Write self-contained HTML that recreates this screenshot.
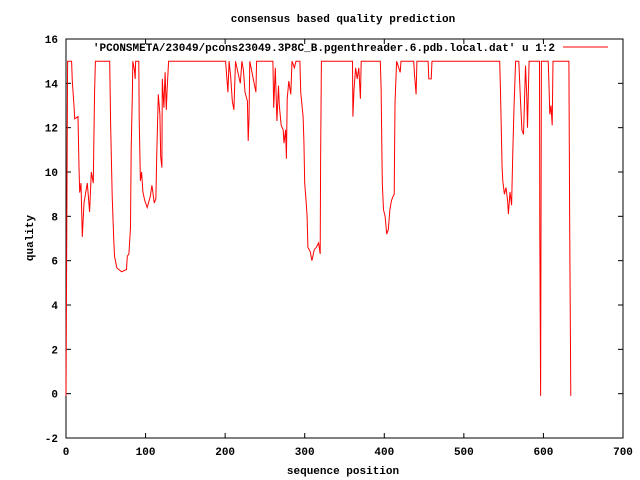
<!DOCTYPE html>
<html><head><meta charset="utf-8">
<style>
body{margin:0;background:#fff;}
svg{display:block;font-family:"Liberation Mono",monospace;font-weight:bold;font-size:11px;}
</style></head>
<body>
<svg id="chart" width="640" height="480" viewBox="0 0 640 480">
<rect x="0" y="0" width="640" height="480" fill="#fff"/>
<text x="343" y="22" text-anchor="middle">consensus based quality prediction</text>
<text x="343" y="474" text-anchor="middle">sequence position</text>
<text x="0" y="0" text-anchor="middle" transform="translate(33,238) rotate(-90)">quality</text>
<g id="axes"></g>
<g id="series"></g>
<g>
<text x="555" y="51" text-anchor="end">'PCONSMETA/23049/pcons23049.3P8C_B.pgenthreader.6.pdb.local.dat' u 1:2</text>
<line x1="563" y1="47" x2="608" y2="47" stroke="#f00" stroke-width="1"/>
</g>
</svg>
<script>
const xTicks=[0,100,200,300,400,500,600,700];
const yTicks=[-2,0,2,4,6,8,10,12,14,16];
const seqPos=[0,1,2,7,7.9,9.9,10.9,15.1,16.3,17.2,18.8,20.5,22.6,26.8,29.7,31.8,34.3,34.8,36,37,54.9,56,58,60,61,64,70,76,77,79,81,82,83.5,84,86,87,87.5,91.5,92,93.5,95,96.7,99,102,106,108,111,113,114,116,118,119,120.5,121,123,124.5,126,127,129,200.6,203.5,205,207,209,211,213,219,221,223,225,228,229,230,231,238.7,239.5,244,260,261,263,265,267,268,270.5,273,274,276,277,278,280,282.5,284,287,289,294,295,298,299,300,301.5,303,304,307,309,312,314.5,317.5,319.5,320,321,360,360.5,362,364,366,368,370,371,395,396,397.5,399,401,403,405,407,409,411,412.5,413.5,415.5,420,421,437,438,440,441,455,456,459,460,545,546,547,548,549,551,553,555,556,558,560,561.5,563,565,569,571,573,575,576,577.5,579,580,582,595,595.5,596.5,597.5,606,607,608,609.5,611,612,632,633,634.4];
const quality=[-0.1,7.5,15,15,14.1,13.05,12.4,12.5,10.2,9.07,9.5,7.07,8.6,9.5,8.2,10,9.5,10.9,13.66,15,15,12.2,8.9,7.0,6.2,5.67,5.5,5.6,6.2,6.3,7.5,11.1,13.6,15,14.6,14.2,15,15,12.4,9.6,10,9.1,8.7,8.4,8.9,9.4,8.6,8.8,10.7,13.5,12.6,10.7,10.2,14.2,12.9,14.5,12.8,13.7,15,15,13.6,15,14.3,13.2,12.8,15,14,15,14.6,13.6,13.2,11.4,12.4,15,13.6,15,15,15,12.9,14.7,12.3,13.9,13,12.1,11.9,11.3,11.9,10.6,13.3,14.1,13.5,15,14.7,15,15,13.6,12.5,11.4,9.5,8.8,8.0,6.6,6.4,6.0,6.5,6.6,6.8,6.3,10.5,15,15,12.5,13.7,14.7,14.2,14.7,13.3,15,15,13.8,9.5,8.3,8.0,7.2,7.4,8.3,8.7,8.9,9.0,13.1,15,14.5,15,15,14.4,13.5,15,15,14.2,14.2,15,15,13.6,11.9,10.2,9.6,9.0,9.3,8.7,8.1,9.1,8.5,10.9,12.9,15,15,13.3,11.9,11.7,12.9,14.8,13.5,12.0,15,15,7.5,-0.1,15,15,13.9,12.6,13.0,12.1,15,15,7.5,-0.1];
const L=66,R=623,T=39,B=438,xMin=0,xMax=700,yMin=-2,yMax=16;
function sx(v){return L+(v-xMin)/(xMax-xMin)*(R-L);}
function sy(v){return B-(v-yMin)/(yMax-yMin)*(B-T);}
const NS='http://www.w3.org/2000/svg';
const axes=document.getElementById('axes');
function mk(tag,attrs,parent){const e=document.createElementNS(NS,tag);for(const k in attrs)e.setAttribute(k,attrs[k]);parent.appendChild(e);return e;}
const frame=mk('rect',{x:L,y:T,width:R-L,height:B-T,fill:'none',stroke:'#000','stroke-width':1},axes);


xTicks.forEach(t=>{
  const x=sx(t);
  const a=mk('line',{x1:x,y1:B,x2:x,y2:B-5,stroke:'#000'},axes);
  
  
  const b=mk('line',{x1:x,y1:T,x2:x,y2:T+5,stroke:'#000'},axes);
  
  
  const tx=mk('text',{x:x,y:B+17,'text-anchor':'middle'},axes);
  tx.textContent=t;
  
  
});
yTicks.forEach(t=>{
  const y=sy(t);
  const a=mk('line',{x1:L,y1:y,x2:L+5,y2:y,stroke:'#000'},axes);
  
  
  const b=mk('line',{x1:R,y1:y,x2:R-5,y2:y,stroke:'#000'},axes);
  
  
  const tx=mk('text',{x:L-8,y:y+4,'text-anchor':'end'},axes);
  tx.textContent=t;
  
  
});
let d='';
seqPos.forEach((v,i)=>{d+=(i?'L':'M')+sx(v).toFixed(1)+','+sy(quality[i]).toFixed(1);});
const p=mk('path',{d:d,fill:'none',stroke:'#f00','stroke-width':1},document.getElementById('series'));


</script>
</body></html>
